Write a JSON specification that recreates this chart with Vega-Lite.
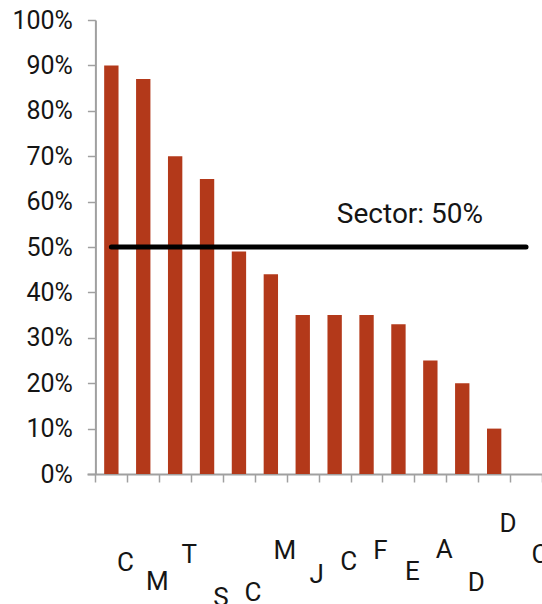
{
  "$schema": "https://vega.github.io/schema/vega-lite/v6.json",
  "width": 455,
  "height": 454,
  "autosize": {"type": "none"},
  "padding": {"left": 87, "top": 20, "right": 0, "bottom": 130},
  "config": {
    "view": {"stroke": null},
    "font": "Roboto"
  },
  "datasets": {
    "shares": [
      {"code": "C1", "share": 0.90},
      {"code": "M1", "share": 0.87},
      {"code": "T1", "share": 0.70},
      {"code": "S1", "share": 0.65},
      {"code": "C2", "share": 0.49},
      {"code": "M2", "share": 0.44},
      {"code": "J1", "share": 0.35},
      {"code": "C3", "share": 0.35},
      {"code": "F1", "share": 0.35},
      {"code": "E1", "share": 0.33},
      {"code": "A1", "share": 0.25},
      {"code": "D1", "share": 0.20},
      {"code": "D2", "share": 0.10},
      {"code": "C4", "share": null}
    ],
    "sector": [
      {"from": "C1", "to": "C4", "share": 0.5, "note": "Sector: 50%"}
    ]
  },
  "encoding": {
    "x": {
      "field": "code",
      "type": "nominal",
      "sort": null,
      "scale": {
        "domain": ["C1", "M1", "T1", "S1", "C2", "M2", "J1", "C3", "F1", "E1", "A1", "D1", "D2", "C4"],
        "paddingInner": 0,
        "paddingOuter": 0.1316,
        "align": 1
      },
      "axis": {
        "title": null,
        "labelAngle": 0,
        "labelExpr": "substring(datum.label, 0, 1)",
        "labelFont": "Roboto",
        "labelFontSize": 26,
        "labelColor": "#151515",
        "labelAlign": "center",
        "labelBaseline": "top",
        "labelOffset": 13.5,
        "labelPadding": {"expr": "({'C1': 67, 'M1': 86, 'T1': 59, 'S1': 102, 'C2': 97, 'M2': 55, 'J1': 79, 'C3': 66, 'F1': 55, 'E1': 76, 'A1': 54, 'D1': 87, 'D2': 28, 'C4': 59})[datum.value]"},
        "labelOverlap": false,
        "labelBound": false,
        "labelLimit": 0,
        "tickBand": "extent",
        "tickSize": 8,
        "tickWidth": 1.5,
        "tickColor": "#a0a0a0",
        "domainColor": "#a0a0a0",
        "domainWidth": 2
      }
    },
    "y": {
      "field": "share",
      "type": "quantitative",
      "scale": {"domain": [0, 1], "nice": false, "zero": true},
      "axis": {
        "title": null,
        "values": [0, 0.1, 0.2, 0.3, 0.4, 0.5, 0.6, 0.7, 0.8, 0.9, 1],
        "format": ".0%",
        "grid": false,
        "offset": -8.4,
        "labelFont": "Roboto",
        "labelFontSize": 25,
        "labelColor": "#151515",
        "labelPadding": 15,
        "tickSize": 8,
        "tickWidth": 1.5,
        "tickColor": "#a0a0a0",
        "domainColor": "#a0a0a0",
        "domainWidth": 2
      }
    }
  },
  "layer": [
    {
      "data": {"name": "shares"},
      "mark": {"type": "bar", "width": {"band": 0.45}, "color": "#b3391a"}
    },
    {
      "data": {"name": "sector"},
      "mark": {"type": "rule", "color": "#000000", "strokeWidth": 5, "strokeCap": "round"},
      "encoding": {
        "x": {"field": "from", "type": "nominal"},
        "x2": {"field": "to"}
      }
    },
    {
      "data": {"name": "sector"},
      "mark": {"type": "text", "align": "right", "baseline": "alphabetic", "dx": -43, "dy": -24, "font": "Roboto", "fontSize": 28, "color": "#151515"},
      "encoding": {
        "x": {"field": "to", "type": "nominal"},
        "text": {"field": "note"}
      }
    }
  ]
}
